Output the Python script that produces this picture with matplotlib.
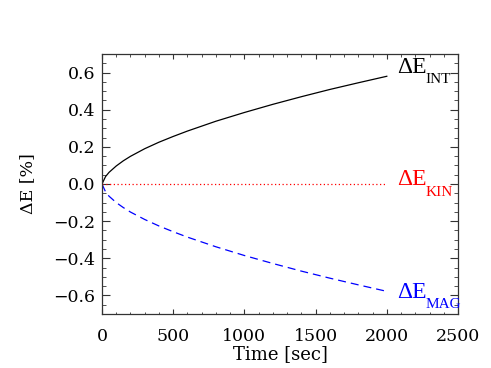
import matplotlib
matplotlib.use("Agg")
import matplotlib.pyplot as plt
from matplotlib.ticker import MultipleLocator

plt.rcParams['font.family'] = ['DejaVu Serif']

# energy change curves
time = [0, 25, 50, 100, 150, 200, 300, 400, 500, 600, 800, 1000,
        1200, 1400, 1600, 1800, 2000]
d_int = [0.0, 0.04, 0.063, 0.097, 0.125, 0.149, 0.19, 0.225, 0.256, 0.285,
         0.338, 0.385, 0.429, 0.47, 0.509, 0.545, 0.58]
d_kin = [0.0] * len(time)
d_mag = [0.0, -0.042, -0.066, -0.1, -0.127, -0.151, -0.191, -0.226, -0.257,
         -0.286, -0.338, -0.385, -0.428, -0.469, -0.507, -0.543, -0.578]

labels = ['INT', 'KIN', 'MAG']
label_y = [0.60, -0.008, -0.614]
colors = ['black', 'red', 'blue']
styles = ['-', (0, (1, 2)), (0, (6.4, 4))]

fig = plt.figure(figsize=(4.91, 3.68), dpi=100)
ax = fig.add_axes([0.2077, 0.1467, 0.7251, 0.7066])

for y, c, ls in zip([d_int, d_kin, d_mag], colors, styles):
    ax.plot(time, y, color=c, ls=ls, lw=0.9)

for lab, ly, c in zip(labels, label_y, colors):
    ax.text(2070, ly, '\u0394E', color=c, fontsize=17, va='baseline',
            ha='left', family='Liberation Serif')
    ax.annotate(lab, xy=(2070, ly), xytext=(20.5, -7.4),
                textcoords='offset points', color=c, fontsize=11,
                va='baseline', ha='left', family='Liberation Serif')

ax.set_xlim(0, 2500)
ax.set_ylim(-0.7, 0.7)
ax.xaxis.set_major_locator(MultipleLocator(500))
ax.xaxis.set_minor_locator(MultipleLocator(100))
ax.yaxis.set_major_locator(MultipleLocator(0.2))
ax.yaxis.set_minor_locator(MultipleLocator(0.05))
ax.yaxis.set_major_formatter(plt.FuncFormatter(
    lambda v, p: ('%.1f' % v).replace('-', '\u2212') if abs(v) > 1e-9 else '0.0'))
ax.tick_params(which='both', direction='in', top=True, right=True,
               labelsize=12.5, color='#333333')
ax.tick_params(axis='x', which='major', length=3.5, pad=10)
ax.tick_params(axis='x', which='minor', length=1.8)
ax.tick_params(axis='y', which='major', length=5.8, pad=5)
ax.tick_params(axis='y', which='minor', length=2.9)
for s in ax.spines.values():
    s.set_linewidth(0.9)
    s.set_color('#333333')

ax.set_xlabel('Time [sec]', fontsize=13, labelpad=0)
ax.set_ylabel('\u0394E [%]', fontsize=12.5, labelpad=12)

fig.savefig('out.png', dpi=100)
